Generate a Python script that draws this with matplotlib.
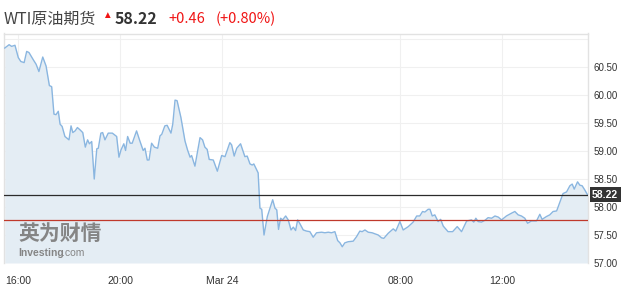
import matplotlib
matplotlib.use("Agg")
import matplotlib.pyplot as plt

# chart time in hours from 16:00 (the 05:00-06:00 maintenance break is skipped)
hours = [
    -0.52, -0.35, -0.25, -0.12, 0.01, 0.11, 0.24, 0.34, 0.43, 0.60, 0.71, 0.82,
    0.97, 1.10, 1.23, 1.32, 1.41, 1.49, 1.58, 1.65, 1.73, 1.84, 2.00, 2.08,
    2.15, 2.24, 2.33, 2.43, 2.54, 2.64, 2.73, 2.80, 2.89, 2.99, 3.09, 3.15,
    3.25, 3.32, 3.41, 3.54, 3.70, 3.87, 3.96, 4.04, 4.15, 4.22, 4.30, 4.40,
    4.48, 4.65, 4.78, 4.91, 4.98, 5.07, 5.14, 5.24, 5.35, 5.48, 5.57, 5.64,
    5.76, 5.85, 6.00, 6.07, 6.16, 6.24, 6.39, 6.55, 6.65, 6.75, 6.81, 6.94,
    7.14, 7.24, 7.33, 7.42, 7.50, 7.66, 7.82, 7.99, 8.12, 8.31, 8.38, 8.48,
    8.58, 8.73, 8.90, 8.99, 9.10, 9.19, 9.25, 9.42, 9.49, 9.56, 9.65, 9.78,
    9.99, 10.08, 10.15, 10.22, 10.30, 10.38, 10.50, 10.60, 10.71, 10.80, 10.89, 10.97,
    11.06, 11.19, 11.32, 11.45, 11.58, 11.71, 11.91, 12.04, 12.17, 12.30, 12.43, 12.54,
    12.63, 12.72, 12.82, 12.95, 13.15, 13.28, 13.41, 13.50, 13.61, 13.74, 13.89, 14.13,
    14.26, 14.35, 14.52, 14.72, 14.82, 14.98, 15.11, 15.31, 15.50, 15.64, 15.76, 15.87,
    15.96, 16.09, 16.16, 16.25, 16.35, 16.48, 16.58, 16.68, 16.87, 17.05, 17.23, 17.40,
    17.60, 17.79, 17.88, 17.96, 18.05, 18.18, 18.31, 18.44, 18.58, 18.71, 18.84, 18.97,
    19.16, 19.36, 19.49, 19.62, 19.75, 19.88, 19.99, 20.14, 20.34, 20.47, 20.56, 20.73,
    20.86, 20.99, 21.13, 21.25, 21.38, 21.52, 21.65, 21.74, 21.82, 21.95, 22.04, 22.13,
    22.24, 22.34,
]
prices = [
    60.84, 60.90, 60.87, 60.89, 60.67, 60.60, 60.58, 60.78, 60.76, 60.63, 60.55, 60.42,
    60.68, 60.52, 60.17, 60.15, 59.66, 59.65, 59.71, 59.48, 59.44, 59.26, 59.20, 59.45,
    59.33, 59.36, 59.42, 59.38, 59.33, 59.07, 59.20, 59.13, 59.17, 58.50, 59.04, 59.05,
    59.32, 59.33, 59.20, 59.32, 59.32, 59.26, 58.89, 59.02, 59.13, 59.01, 59.26, 59.14,
    59.14, 59.36, 59.18, 59.01, 59.05, 58.84, 58.84, 59.14, 59.07, 59.05, 59.27, 59.30,
    59.45, 59.46, 59.32, 59.48, 59.91, 59.90, 59.60, 59.18, 59.02, 58.89, 58.92, 58.73,
    59.24, 59.20, 59.07, 59.03, 58.85, 58.84, 58.64, 58.92, 58.90, 59.15, 59.11, 58.91,
    59.05, 59.13, 58.90, 58.91, 58.77, 58.75, 58.77, 58.61, 57.98, 57.96, 57.50, 57.83,
    58.13, 57.98, 57.95, 57.60, 57.80, 57.77, 57.84, 57.77, 57.59, 57.64, 57.58, 57.77,
    57.70, 57.59, 57.57, 57.56, 57.46, 57.54, 57.55, 57.54, 57.55, 57.54, 57.56, 57.40,
    57.36, 57.29, 57.36, 57.38, 57.39, 57.47, 57.57, 57.56, 57.59, 57.55, 57.54, 57.50,
    57.45, 57.44, 57.53, 57.61, 57.57, 57.74, 57.59, 57.65, 57.73, 57.84, 57.84, 57.92,
    57.91, 57.96, 57.96, 57.84, 57.86, 57.74, 57.78, 57.66, 57.56, 57.56, 57.65, 57.56,
    57.75, 57.77, 57.73, 57.80, 57.74, 57.73, 57.76, 57.81, 57.80, 57.84, 57.82, 57.77,
    57.84, 57.89, 57.92, 57.86, 57.84, 57.80, 57.71, 57.75, 57.75, 57.87, 57.78, 57.83,
    57.86, 57.92, 57.93, 58.08, 58.24, 58.27, 58.38, 58.41, 58.32, 58.45, 58.39, 58.38,
    58.30, 58.22,
]

last_price = 58.22
prev_close = 57.76
change = "+0.46"
change_pct = "(+0.80%)"
title = "WTI原油期货"

x_ticks = [0, 4, 8, 15, 19]
x_labels = ["16:00", "20:00", "Mar 24", "08:00", "12:00"]
y_ticks = [57.0, 57.5, 58.0, 58.5, 59.0, 59.5, 60.0, 60.5, 61.0]
y_low, y_high = 57.0, 61.10

cjk = ["Noto Sans CJK SC", "DejaVu Sans"]
num_font = ["Liberation Sans", "DejaVu Sans"]
red = "#f01414"

fig = plt.figure(figsize=(6.21, 2.92), dpi=100)
ax = fig.add_axes([4 / 621, 1 - 263 / 292, 584 / 621, 229.5 / 292])

ax.fill_between(hours, prices, y_low, color="#e4edf4", lw=0, zorder=1)
ax.plot(hours, prices, color="#8ab6e0", lw=1.0, zorder=3)

ax.axhline(last_price, color="#2b2b2b", lw=0.9, zorder=4)
ax.axhline(prev_close, color="#c0392b", lw=0.9, zorder=4)

ax.set_xlim(-0.55, 22.36)
ax.set_ylim(y_low, y_high)

ax.set_xticks(x_ticks)
ax.set_xticklabels(x_labels, fontsize=7.5, color="#333333", family=num_font)
ax.set_yticks(y_ticks)
ax.set_yticklabels([f"{v:.2f}" for v in y_ticks[:-1]] + [""],
                   fontsize=7, color="#333333", family=num_font)
ax.yaxis.tick_right()
ax.tick_params(axis="x", length=0, pad=9)
ax.tick_params(axis="y", length=0, pad=4)
ax.grid(True, color="#f0f0f0", lw=0.8, zorder=0)
ax.set_axisbelow(True)

for side in ["top", "right", "left"]:
    ax.spines[side].set_color("#e2e2e2")
    ax.spines[side].set_linewidth(1.0)
ax.spines["bottom"].set_visible(False)

# current price tag on the right axis
ax.annotate(f"{last_price:.2f}", xy=(1.0, last_price), xycoords=("axes fraction", "data"),
            xytext=(3, 0), textcoords="offset points", ha="left", va="center",
            fontsize=7.5, fontweight="bold", color="white", family=num_font,
            bbox=dict(boxstyle="square,pad=0.25", fc="#333333", ec="none"),
            annotation_clip=False, zorder=10)

# watermark
ax.text(0.024, 0.1, "英为财情", transform=ax.transAxes, fontsize=15,
        fontweight="heavy", color="#858585", family=cjk, zorder=5)
ax.text(0.024, 0.03, "Investing", transform=ax.transAxes, fontsize=7.5,
        fontweight="bold", color="#858585", family=num_font, zorder=5)
ax.text(0.1, 0.03, ".com", transform=ax.transAxes, fontsize=7.5,
        color="#858585", family=num_font, zorder=5)

# header
fig.text(4 / 621, 1 - 19 / 292, title, fontsize=11.5, color="#444444",
         family=cjk, va="center")
fig.text(102 / 621, 1 - 15 / 292, "▲", fontsize=7, color=red,
         family=num_font, va="center")
fig.text(115 / 621, 1 - 19 / 292, f"{last_price:.2f}", fontsize=11.5,
         fontweight="bold", color="#333333", family=cjk, va="center")
fig.text(168 / 621, 1 - 19 / 292, change, fontsize=10.5, color=red,
         family=cjk, va="center")
fig.text(216 / 621, 1 - 19 / 292, change_pct, fontsize=10.5, color=red,
         family=cjk, va="center")

fig.savefig("out.png", dpi=100)
